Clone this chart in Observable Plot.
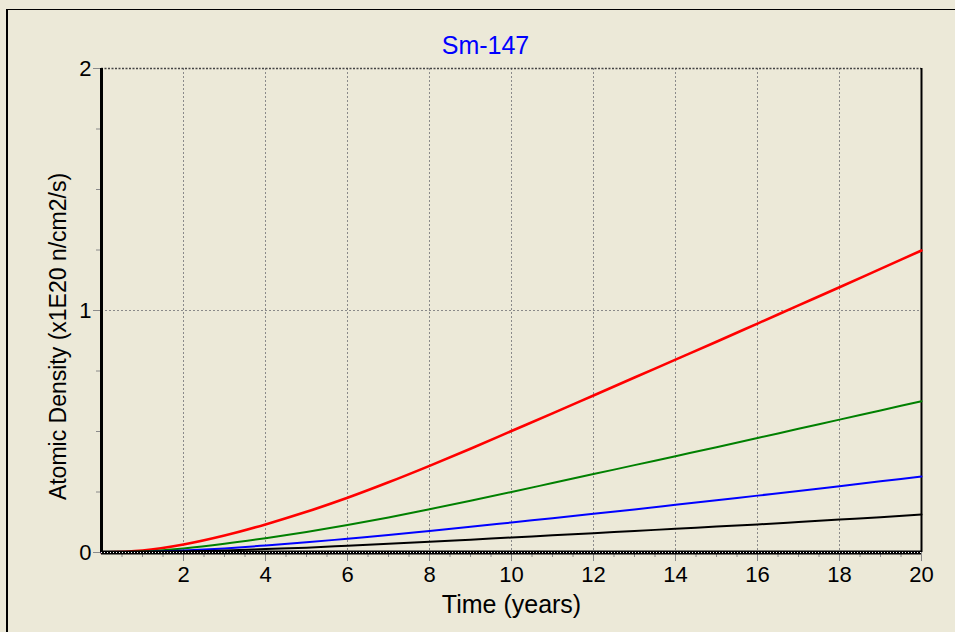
<!DOCTYPE html>
<html>
<head>
<meta charset="utf-8">
<script src="https://cdn.jsdelivr.net/npm/d3@7"></script>
<script src="https://cdn.jsdelivr.net/npm/@observablehq/plot@0.6"></script>
<style>
  html, body { margin: 0; padding: 0; background: #ECE9D8; }
  #wrap { position: relative; width: 955px; height: 632px; overflow: hidden; }
  #border { position: absolute; left: 6px; top: 9px; width: 980px; height: 660px;
            border-top: 1px solid #000; border-left: 2px solid #000; pointer-events: none; }
  #chart { position: absolute; left: 0; top: 0; }
</style>
</head>
<body>
<div id="wrap"><div id="chart"></div><div id="border"></div></div>
<script>
// Time axis (years)
const years = [0,1,2,3,4,5,6,7,8,9,10,11,12,13,14,15,16,17,18,19,20];

// Sm-147 atomic density for four flux levels (x1E20)
const redSeries   = [0,0.008,0.033,0.070,0.116,0.168,0.226,0.290,0.358,0.429,0.502,0.575,0.649,0.723,0.797,0.871,0.946,1.021,1.096,1.172,1.248];
const greenSeries = [0,0.004,0.017,0.036,0.059,0.085,0.114,0.145,0.179,0.214,0.250,0.287,0.324,0.361,0.398,0.435,0.473,0.511,0.549,0.587,0.625];
const blueSeries  = [0,0.002,0.008,0.017,0.029,0.042,0.057,0.072,0.089,0.106,0.124,0.142,0.160,0.178,0.197,0.216,0.235,0.254,0.274,0.294,0.314];
const blackSeries = [0,0.001,0.004,0.008,0.014,0.020,0.028,0.036,0.044,0.053,0.062,0.071,0.080,0.089,0.098,0.107,0.116,0.126,0.136,0.146,0.157];

const seriesList = [
  {name: "red",   color: "#FF0000", width: 2.6, values: redSeries},
  {name: "green", color: "#008000", width: 2, values: greenSeries},
  {name: "blue",  color: "#0000FF", width: 2, values: blueSeries},
  {name: "black", color: "#000000", width: 2, values: blackSeries}
];

const majorX = [2,4,6,8,10,12,14,16,18,20];
const minorX = d3.range(0.5, 20.01, 0.5);
const yTicks = [0, 1, 2];
const minorY = d3.range(0.25, 2, 0.25).filter(v => v !== 1);

const font = "'Liberation Sans', Arial, sans-serif";

const lineMarks = seriesList.map(s =>
  Plot.line(years.map((t, i) => ({t, v: s.values[i]})), {
    x: "t", y: "v", stroke: s.color, strokeWidth: s.width, curve: "monotone-x"
  })
);

const chart = Plot.plot({
  width: 955,
  height: 632,
  marginLeft: 101,
  marginRight: 34,
  marginTop: 68,
  marginBottom: 80,
  style: {background: "#ECE9D8", fontFamily: font, color: "#000", overflow: "visible"},
  x: {domain: [0, 20]},
  y: {domain: [0, 2]},
  marks: [
    // dotted grid
    Plot.ruleX(majorX.slice(0, -1), {stroke: "#8a8a8a", strokeWidth: 1, strokeDasharray: "2,2"}),
    Plot.ruleY([1], {stroke: "#8a8a8a", strokeWidth: 1, strokeDasharray: "2,2"}),
    // top edge and right edge of the plotting area
    Plot.ruleY([2], {stroke: "#444", strokeWidth: 1.5, strokeDasharray: "2,1.5"}),
    Plot.ruleX([20], {stroke: "#000", strokeWidth: 2}),
    // ticks
    Plot.axisX({ticks: minorX, tickSize: 5, tickPadding: 0, text: null, stroke: "#8a8a8a", label: null}),
    Plot.axisX({ticks: majorX, tickSize: 9, tickPadding: 5, fontSize: 22, stroke: "#8a8a8a", label: null, tickFormat: d => String(d)}),
    Plot.axisY({ticks: minorY, tickSize: 5, tickPadding: 0, text: null, stroke: "#8a8a8a", label: null}),
    Plot.axisY({ticks: yTicks, tickSize: 8, tickPadding: 2, fontSize: 22, stroke: "#8a8a8a", label: null, tickFormat: d => String(d)}),
    // data
    ...lineMarks,
    // axes lines
    Plot.ruleX([0], {stroke: "#000", strokeWidth: 3}),
    Plot.ruleY([0], {stroke: "#000", strokeWidth: 4}),
    Plot.ruleY([0], {stroke: "#fff", strokeWidth: 1.2, strokeDasharray: "1,2"}),
    // title and axis labels
    Plot.text(["Sm-147"], {frameAnchor: "top", dx: -26, dy: -23, lineAnchor: "middle", fontSize: 25, fill: "#0000FF"}),
    Plot.text(["Time (years)"], {frameAnchor: "bottom", dy: 52, lineAnchor: "middle", fontSize: 25, fill: "#000"}),
    Plot.text(["Atomic Density (x1E20 n/cm2/s)"], {frameAnchor: "left", dx: -43, dy: 26, rotate: -90, textAnchor: "middle", lineAnchor: "middle", fontSize: 23, fill: "#000"})
  ]
});

document.getElementById("chart").appendChild(chart);
</script>
</body>
</html>
